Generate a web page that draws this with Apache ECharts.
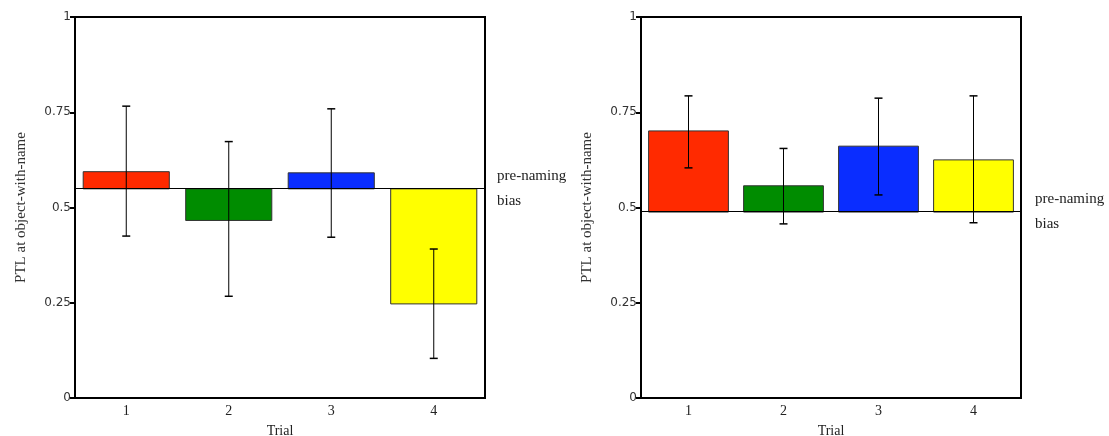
<!DOCTYPE html>
<html>
<head>
<meta charset="utf-8">
<script src="https://cdn.jsdelivr.net/npm/echarts@6/dist/echarts.min.js"></script>
<style>
  html, body { margin: 0; padding: 0; background: #fff; }
  #chartDom { width: 1109px; height: 436px; }
</style>
</head>
<body>
<div id="chartDom"></div>
<script>
// trials on x axis
const trials = ['1', '2', '3', '4'];
const barColors = ['#ff2a00', '#008c00', '#0a2dff', '#ffff00'];

// left panel
const leftMeans = [0.594, 0.466, 0.591, 0.247];
const leftErrLow = [0.425, 0.267, 0.422, 0.104];
const leftErrHigh = [0.766, 0.673, 0.759, 0.391];
const leftBias = 0.549;

// right panel
const rightMeans = [0.701, 0.557, 0.661, 0.625];
const rightErrLow = [0.604, 0.457, 0.533, 0.46];
const rightErrHigh = [0.793, 0.655, 0.787, 0.793];
const rightBias = 0.488;

const yTicks = [0, 0.25, 0.5, 0.75, 1];

function rows(means, lows, highs, bias) {
  return means.map((m, i) => [i, m, lows[i], highs[i], bias]);
}

// floating bar from bias line to mean, plus error bar
function renderBar(params, api) {
  const i = api.value(0);
  const base = api.coord([i, api.value(4)]);
  const top = api.coord([i, api.value(1)]);
  const lo = api.coord([i, api.value(2)]);
  const hi = api.coord([i, api.value(3)]);
  const w = api.size([1, 0])[0] * 0.84;
  const cap = 4;
  return {
    type: 'group',
    children: [
      {
        type: 'rect',
        shape: { x: base[0] - w / 2, y: Math.min(base[1], top[1]), width: w, height: Math.abs(base[1] - top[1]) },
        style: { fill: barColors[i], stroke: '#333', lineWidth: 1 }
      },
      { type: 'line', shape: { x1: lo[0], y1: lo[1], x2: hi[0], y2: hi[1] }, style: { stroke: '#000', lineWidth: 1 } },
      { type: 'line', shape: { x1: hi[0] - cap, y1: hi[1], x2: hi[0] + cap, y2: hi[1] }, style: { stroke: '#000', lineWidth: 1.5 } },
      { type: 'line', shape: { x1: lo[0] - cap, y1: lo[1], x2: lo[0] + cap, y2: lo[1] }, style: { stroke: '#000', lineWidth: 1.5 } }
    ]
  };
}

function biasLine(v, dist) {
  return {
    silent: true,
    symbol: 'none',
    lineStyle: { color: '#000', width: 1, type: 'solid' },
    label: {
      show: true, position: 'end', distance: dist,
      formatter: 'pre-naming\nbias',
      fontFamily: 'Liberation Serif', fontSize: 15, lineHeight: 25, color: '#222'
    },
    data: [{ yAxis: v }]
  };
}

function xAxisOf(idx) {
  return {
    type: 'category', gridIndex: idx, data: trials,
    name: 'Trial', nameLocation: 'middle', nameGap: 26,
    nameTextStyle: { fontFamily: 'Liberation Serif', fontSize: 14, color: '#222' },
    axisLine: { lineStyle: { color: '#000', width: 2 } },
    axisTick: { show: false },
    axisLabel: { margin: 6, fontFamily: 'Liberation Serif', fontSize: 14, color: '#222' }
  };
}

function yAxisOf(idx) {
  return {
    type: 'value', gridIndex: idx, min: 0, max: 1, interval: 0.25,
    name: 'PTL at object-with-name', nameLocation: 'middle', nameGap: 46,
    nameTextStyle: { fontFamily: 'Liberation Serif', fontSize: 15, color: '#333' },
    axisLine: { show: true, lineStyle: { color: '#000', width: 2 } },
    axisTick: { show: true, length: 5, lineStyle: { color: '#000', width: 2 } },
    axisLabel: {
      margin: 4, fontFamily: 'DejaVu Sans', fontSize: 12, color: '#333',
      formatter: v => yTicks.indexOf(v) >= 0 ? String(v) : ''
    },
    splitLine: { show: false }
  };
}

let myChart = echarts.init(document.getElementById('chartDom'));
myChart.setOption({
  animation: false,
  backgroundColor: '#fff',
  grid: [
    { left: 75, top: 17, width: 410, height: 381, outerBoundsMode: 'none', show: true, borderColor: '#000', borderWidth: 2, backgroundColor: 'transparent' },
    { left: 641, top: 17, width: 380, height: 381, outerBoundsMode: 'none', show: true, borderColor: '#000', borderWidth: 2, backgroundColor: 'transparent' }
  ],
  xAxis: [xAxisOf(0), xAxisOf(1)],
  yAxis: [yAxisOf(0), yAxisOf(1)],
  series: [
    {
      type: 'custom', xAxisIndex: 0, yAxisIndex: 0,
      data: rows(leftMeans, leftErrLow, leftErrHigh, leftBias),
      renderItem: renderBar,
      markLine: biasLine(leftBias, 12)
    },
    {
      type: 'custom', xAxisIndex: 1, yAxisIndex: 1,
      data: rows(rightMeans, rightErrLow, rightErrHigh, rightBias),
      renderItem: renderBar,
      markLine: biasLine(rightBias, 14)
    }
  ]
});
</script>
</body>
</html>
